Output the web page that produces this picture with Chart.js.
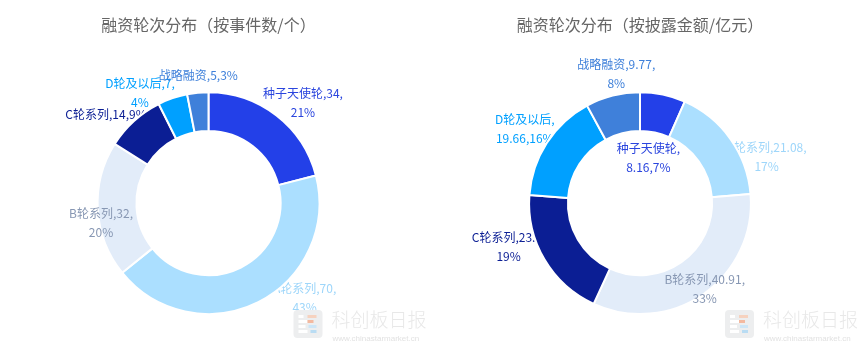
<!DOCTYPE html>
<html>
<head>
<meta charset="utf-8">
<script src="https://cdn.jsdelivr.net/npm/chart.js@4/dist/chart.umd.min.js"></script>
<style>
  html, body { margin: 0; padding: 0; background: #fff; }
  #wrap { position: relative; width: 863px; height: 349px; overflow: hidden; }
  .box { position: absolute; top: 0; height: 349px; }
</style>
</head>
<body>
<div id="wrap">
  <div class="box" style="left:0;width:431px;"><canvas id="c1" width="431" height="349"></canvas></div>
  <div class="box" style="left:422px;width:441px;"><canvas id="c2" width="441" height="349"></canvas></div>
</div>
<script>
// ---- data ----
const categories = ['种子天使轮', 'A轮系列', 'B轮系列', 'C轮系列', 'D轮及以后', '战略融资'];
const countValues = [34, 70, 32, 14, 7, 5];
const amountValues = [8.16, 21.08, 40.91, 23.8, 19.66, 9.77];
const titleCount = '融资轮次分布（按事件数/个）';
const titleAmount = '融资轮次分布（按披露金额/亿元）';

// ---- styles ----
const sliceColors = ['#2340E8', '#ABDFFF', '#E2ECF9', '#0B1E94', '#00A0FF', '#3F80DA'];
const labelColors = ['#2A45DE', '#9ED6FA', '#8797B3', '#0B1E94', '#00A0FF', '#3F80DA'];
const FONT = '"Noto Sans CJK SC", "Noto Sans", sans-serif';

// label layout per chart: [radius factor, angle shift (deg), wrap mode, drawOnTop]
// wrap: 0 = one line, 1 = break after value, 2 = break after name
const layoutCount = [
  [1.24, 5.6, 1, false],
  [1.22, -18.6, 1, false],
  [0.985, -7, 1, true],
  [1.22, -7, 0, false],
  [1.17, -13, 1, false],
  [1.155, 1, 0, false]
];
const layoutAmount = [
  [0.41, -1.3, 2, false],
  [1.215, 15.4, 1, false],
  [0.97, -2, 1, true],
  [1.25, 12, 1, false],
  [1.236, 0, 2, false],
  [1.18, 3.8, 1, false]
];

function labelLines(name, value, pct, mode) {
  if (mode === 0) return [name + ',' + value + ',' + pct + '%'];
  if (mode === 2) return [name + ',', value + ',' + pct + '%'];
  return [name + ',' + value + ',', pct + '%'];
}

function drawLabels(chart, onTop) {
  const ctx = chart.ctx;
  const meta = chart.getDatasetMeta(0);
  const ds = chart.data.datasets[0];
  const layout = chart.options.plugins.sliceLabels.layout;
  const total = ds.data.reduce((a, b) => a + b, 0);
  ctx.save();
  ctx.font = '12px ' + FONT;
  ctx.textAlign = 'center';
  ctx.textBaseline = 'middle';
  meta.data.forEach((arc, i) => {
    const L = layout[i];
    if (L[3] !== onTop) return;
    const p = arc.getProps(['x', 'y', 'startAngle', 'endAngle', 'outerRadius'], true);
    const mid = (p.startAngle + p.endAngle) / 2 + L[1] * Math.PI / 180;
    const r = p.outerRadius * L[0];
    const x = p.x + r * Math.cos(mid);
    const y = p.y + r * Math.sin(mid);
    const pct = Math.round(ds.data[i] / total * 100);
    const lines = labelLines(chart.data.labels[i], ds.data[i], pct, L[2]);
    const lh = 19;
    ctx.fillStyle = labelColors[i];
    lines.forEach((t, k) => {
      ctx.fillText(t, x, y + (k - (lines.length - 1) / 2) * lh);
    });
  });
  ctx.restore();
}

const sliceLabels = {
  id: 'sliceLabels',
  beforeDatasetsDraw(chart) { drawLabels(chart, false); },
  afterDatasetsDraw(chart) { drawLabels(chart, true); }
};

function roundRect(ctx, x, y, w, h, r) {
  ctx.beginPath();
  ctx.moveTo(x + r, y);
  ctx.arcTo(x + w, y, x + w, y + h, r);
  ctx.arcTo(x + w, y + h, x, y + h, r);
  ctx.arcTo(x, y + h, x, y, r);
  ctx.arcTo(x, y, x + w, y, r);
  ctx.closePath();
}

const watermark = {
  id: 'watermark',
  afterDraw(chart) {
    const ctx = chart.ctx;
    const arc = chart.getDatasetMeta(0).data[0];
    const cx = arc.x;
    ctx.save();
    const lx = cx + 85, ly = 310;
    roundRect(ctx, lx, ly, 29, 28, 4);
    ctx.fillStyle = '#EDEEEF';
    ctx.fill();
    ctx.fillStyle = '#FFFFFF';
    ctx.fillRect(lx + 5, ly + 5, 5, 3);
    ctx.fillRect(lx + 5, ly + 10, 9, 3);
    ctx.fillRect(lx + 5, ly + 15, 7, 3);
    ctx.fillRect(lx + 5, ly + 20, 9, 3);
    ctx.fillStyle = '#F6D2BF';
    ctx.fillRect(lx + 14, ly + 5, 9, 3);
    ctx.fillStyle = '#F3B9A0';
    ctx.fillRect(lx + 14, ly + 10, 6, 3);
    ctx.fillStyle = '#CDE6F7';
    ctx.fillRect(lx + 15, ly + 15, 8, 3);
    ctx.fillStyle = '#B9DCF3';
    ctx.fillRect(lx + 17, ly + 20, 6, 3);
    ctx.fillStyle = '#E8E8E8';
    ctx.font = '300 19px ' + FONT;
    ctx.textBaseline = 'middle';
    ctx.textAlign = 'left';
    ctx.fillText('科创板日报', cx + 123, 320);
    ctx.font = '8px "Liberation Sans", Arial, sans-serif';
    ctx.fillStyle = '#E2E2E2';
    ctx.fillText('www.chinastarmarket.cn', cx + 124, 339);
    ctx.restore();
  }
};

function makeChart(id, values, title, layout, padRight) {
  return new Chart(document.getElementById(id), {
    type: 'doughnut',
    data: {
      labels: categories,
      datasets: [{
        data: values,
        backgroundColor: sliceColors,
        borderColor: '#ffffff',
        borderWidth: 2,
        hoverOffset: 0
      }]
    },
    options: {
      responsive: false,
      animation: false,
      devicePixelRatio: 1,
      cutout: '65%',
      layout: { padding: { top: 0, bottom: 34, left: 0, right: padRight } },
      events: [],
      plugins: {
        legend: { display: false },
        tooltip: { enabled: false },
        title: {
          display: true,
          text: title,
          color: '#666666',
          font: { family: FONT, size: 16, weight: 'normal' },
          padding: { top: 15, bottom: 57 }
        },
        sliceLabels: { layout: layout }
      }
    },
    plugins: [sliceLabels, watermark]
  });
}

makeChart('c1', countValues, titleCount, layoutCount, 14);
makeChart('c2', amountValues, titleAmount, layoutAmount, 5);
</script>
</body>
</html>
